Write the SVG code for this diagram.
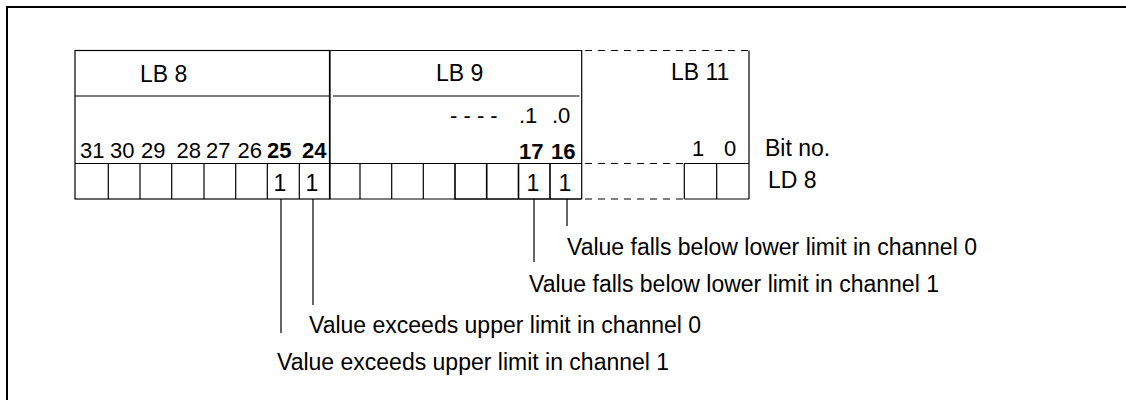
<svg xmlns="http://www.w3.org/2000/svg" width="1126" height="400" viewBox="0 0 1126 400">
<style>
text{font-family:"Liberation Sans",Arial,sans-serif;font-size:23px;fill:#000}
.n{font-size:22px}
.b{font-weight:bold}
.m{text-anchor:middle}
.ln{stroke:#000;stroke-width:1.2;fill:none}
.th{stroke:#000;stroke-width:1.6;fill:none}
.d{stroke:#000;stroke-width:1.2;fill:none;stroke-dasharray:7 6}
</style>
<rect width="1126" height="400" fill="#fff"/>
<path d="M7,400 V7 H1126" stroke="#000" stroke-width="2" fill="none"/>
<g id="lb8">
<rect class="ln" x="75" y="50.5" width="254.5" height="148.5"/>
<path class="ln" d="M75,96 H329.5 M75,163.5 H329.5 M108.3,163.5 V199 M140,163.5 V199 M171.7,163.5 V199 M204,163.5 V199 M235.7,163.5 V199 M267.3,163.5 V199 M299.3,163.5 V199"/>
<text x="140" y="82">LB 8</text>
<text class="n" x="80" y="158">31</text>
<text class="n" x="110" y="158">30</text>
<text class="n" x="141" y="158">29</text>
<text class="n" x="176.5" y="158">28</text>
<text class="n" x="206" y="158">27</text>
<text class="n" x="237.5" y="158">26</text>
<text class="n b" x="267" y="158">25</text>
<text class="n b" x="302" y="158">24</text>
<text class="m" x="280" y="191">1</text>
<text class="m" x="312" y="191">1</text>
</g>
<g id="lb9">
<path class="ln" d="M330,50.5 H581.7 V199 M330,50.5 V199 H455 M333,96 H579.5 M330,163.5 H581.7 M360,163.5 V199 M391.7,163.5 V199 M423.3,163.5 V199"/>
<path class="th" d="M455,163.5 V199 H581.7 M486.7,163.5 V199 M518.5,163.5 V199 M550,163.5 V199"/>
<text x="436" y="81">LB 9</text>
<text class="n" x="450" y="123">- - - -</text>
<text class="n" x="519" y="123">.1</text>
<text class="n" x="552" y="123">.0</text>
<text class="n b" x="519" y="159">17</text>
<text class="n b" x="551" y="159">16</text>
<text class="m" x="533" y="191">1</text>
<text class="m" x="565" y="191">1</text>
</g>
<g id="lb11">
<path class="d" d="M585,50.5 H749 M585,163.5 H684 M585,199 H684"/>
<path class="ln" d="M749,50.5 V199 M684.3,163.5 H749 M684.3,199 H749 M684.3,163.5 V199 M716.7,163.5 V199"/>
<text x="671" y="80">LB 11</text>
<text class="n" x="692" y="156">1</text>
<text class="n" x="724" y="156">0</text>
</g>
<g id="labels">
<text x="765" y="156">Bit no.</text>
<text x="768" y="188">LD 8</text>
</g>
<g id="connectors">
<path class="ln" d="M281,199 V333 M313,199 V305 M534,199 V262 M567,199 V226"/>
</g>
<g id="notes">
<text x="567" y="255">Value falls below lower limit in channel 0</text>
<text x="529" y="292">Value falls below lower limit in channel 1</text>
<text x="309" y="333">Value exceeds upper limit in channel 0</text>
<text x="277" y="370">Value exceeds upper limit in channel 1</text>
</g>
</svg>
